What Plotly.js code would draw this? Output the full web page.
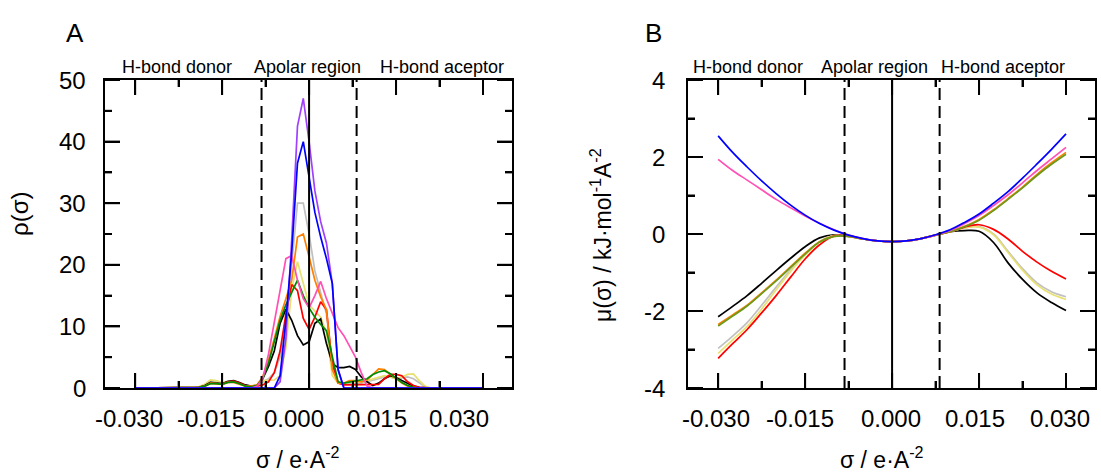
<!DOCTYPE html>
<html><head><meta charset="utf-8">
<script src="https://cdn.plot.ly/plotly-3.0.1.min.js"></script>
<style>html,body{margin:0;padding:0;background:#fff;}#chart{width:1101px;height:473px;}</style>
</head><body><div id="chart"></div>
<script>
// ---------- Panel A: sigma profiles rho(sigma) ----------
const sigmaA = [-0.030,-0.029,-0.028,-0.027,-0.026,-0.025,-0.024,-0.023,-0.022,-0.021,-0.020,
-0.019,-0.018,-0.017,-0.016,-0.015,-0.014,-0.013,-0.012,-0.011,-0.010,
-0.009,-0.008,-0.007,-0.006,-0.005,-0.004,-0.003,-0.002,-0.001,
0.000,0.001,0.002,0.003,0.004,0.005,0.006,0.007,0.008,0.009,
0.010,0.011,0.012,0.013,0.014,0.015,0.016,0.017,0.018,0.019,
0.020,0.021,0.022,0.023,0.024,0.025,0.026,0.027,0.028,0.029,0.030];

const rhoBlack = [0,0,0,0,0,0,0,0,0,0,0,
0.1,0.4,0.9,0.8,0.7,1.1,1.2,0.9,0.5,0.3,
0.4,1.5,3.5,6,10.5,12.8,11,8.5,7,
7.5,10.5,11.2,7.2,4,3.3,3.3,3.5,3.0,1.8,
1.0,0.4,0.8,1.5,2.0,1.7,1.2,0.7,0.3,0.1,
0,0,0,0,0,0,0,0,0,0,0];
const rhoRed = [0,0,0,0,0,0,0,0,0,0,0,
0.1,0.3,0.8,0.7,0.6,1.0,1.1,0.8,0.4,0.3,
0.3,0.5,1.0,2.5,6,12,16.8,15.8,11.3,
9.5,11.5,14,12.7,4,0.8,0.5,0.5,0.5,0.5,
0.5,0.6,0.6,1.5,2.2,2.2,2.0,1.0,0.4,0.1,
0,0,0,0,0,0,0,0,0,0,0];
const rhoYellow = [0,0,0,0,0,0,0,0,0,0,0,
0.2,0.6,1.3,1.2,0.9,1.0,1.0,0.7,0.4,0.3,
0.5,1.2,1.3,1.3,2,6.5,16,20.5,17,
13.5,12.5,11.5,9,2,0.8,0.8,1.0,1.0,1.0,
1.2,1.5,1.8,2.0,1.8,1.5,1.8,2.2,2.3,1.2,
0.3,0,0,0,0,0,0,0,0,0,0];
const rhoGray = [0,0,0,0,0,0,0,0,0,0,0,
0.2,0.5,1.1,1.0,0.8,0.9,0.9,0.6,0.4,0.3,
0.4,1.0,1.5,2.5,5,10,20,30,30,
25,19,15.5,12,4,0.8,0.6,0.6,0.7,0.8,
1.0,1.2,1.5,1.8,1.8,1.5,1.6,1.8,1.5,0.8,
0.2,0,0,0,0,0,0,0,0,0,0];
const rhoOrange = [0,0,0,0,0,0,0,0,0,0,0,
0.1,0.3,0.8,0.7,0.6,0.9,0.9,0.6,0.3,0.3,
0.5,1.8,4.5,8,11.6,14.5,17.5,24.5,25,
21.3,17.5,14.8,12.7,3,0.8,0.8,1.2,1.2,1.0,
1.3,2.2,3.1,3.0,2.3,1.5,0.8,0.3,0.1,0,
0,0,0,0,0,0,0,0,0,0,0];
const rhoGreen = [0,0,0,0,0,0,0,0,0,0,0,
0.1,0.3,0.7,0.7,0.6,0.9,1.0,0.7,0.3,0.2,
0.4,1.5,4,7.5,11,13.5,15.5,17.5,15,
13,11.5,10.3,9.3,5,1.0,0.8,1.0,1.2,1.3,
1.5,2.2,2.6,2.8,2.3,1.6,0.9,0.4,0.1,0,
0,0,0,0,0,0,0,0,0,0,0];
const rhoPink = [0,0,0,0,0,0,0,0,0,0,0,
0,0,0,0,0,0,0,0,0,0,
0.3,1.5,5.5,10.5,16,21,21.5,17.5,14.5,
13,15,17.3,14.5,12,9.8,8.5,6.8,5,2.5,
0.3,0,0,0,0,0,0,0,0,0,
0,0,0,0,0,0,0,0,0,0,0];
const rhoPurple = [0,0,0,0,0,0,0,0,0,0,0,
0,0,0,0,0,0,0,0,0,0,
0,0,0,0,1,8,24,42.5,47,
40,32,27,23.5,17,3,0,0,0,0,
0,0,0,0,0,0,0,0,0,0,
0,0,0,0,0,0,0,0,0,0,0];
const rhoBlue = [0,0,0,0,0,0,0,0,0,0,0,
0,0,0,0,0,0,0,0,0,0,
0,0,0,0,2,11,22,36.5,40,
34.3,28.5,24.5,21,17,3,0,0,0,0,
0,0,0,0,0,0,0,0,0,0,
0,0,0,0,0,0,0,0,0,0,0];

// ---------- Panel B: sigma potentials mu(sigma) ----------
const sigmaB = [-0.030,-0.0275,-0.025,-0.0225,-0.020,-0.0175,-0.015,-0.0125,-0.010,-0.0075,-0.005,-0.0025,0,
0.0025,0.005,0.0075,0.010,0.0125,0.015,0.0175,0.020,0.0225,0.025,0.0275,0.030];
const muBlue   = [2.55,2.12,1.74,1.38,1.05,0.75,0.49,0.27,0.1,-0.03,-0.12,-0.18,-0.2,-0.18,-0.12,-0.02,0.11,0.3,0.52,0.8,1.1,1.45,1.82,2.2,2.6];
const muPink   = [1.94,1.65,1.4,1.15,0.9,0.68,0.47,0.28,0.11,-0.03,-0.12,-0.18,-0.2,-0.18,-0.12,-0.03,0.09,0.27,0.48,0.74,1.02,1.33,1.65,1.95,2.25];
const muBlack  = [-2.15,-1.88,-1.6,-1.28,-0.95,-0.63,-0.33,-0.1,-0.02,-0.06,-0.13,-0.18,-0.2,-0.18,-0.12,-0.03,0.06,0.09,0.07,-0.22,-0.75,-1.18,-1.53,-1.78,-1.99];
const muGray   = [-2.97,-2.65,-2.3,-1.85,-1.38,-0.93,-0.53,-0.2,-0.04,-0.06,-0.13,-0.18,-0.2,-0.18,-0.12,-0.03,0.06,0.16,0.19,0.0,-0.45,-0.9,-1.27,-1.5,-1.63];
const muYellow = [-3.1,-2.75,-2.4,-1.95,-1.45,-0.97,-0.55,-0.21,-0.04,-0.06,-0.13,-0.18,-0.2,-0.18,-0.12,-0.03,0.06,0.16,0.18,-0.02,-0.48,-0.94,-1.32,-1.56,-1.7];
const muRed    = [-3.23,-2.85,-2.48,-2.05,-1.6,-1.12,-0.65,-0.28,-0.05,-0.05,-0.13,-0.18,-0.2,-0.18,-0.12,-0.03,0.06,0.18,0.24,0.12,-0.13,-0.45,-0.73,-0.97,-1.17];
const muOrange = [-2.35,-2.1,-1.85,-1.53,-1.2,-0.85,-0.5,-0.2,-0.06,-0.06,-0.13,-0.18,-0.2,-0.18,-0.12,-0.03,0.06,0.2,0.38,0.63,0.92,1.22,1.55,1.85,2.12];
const muGreen  = [-2.39,-2.13,-1.87,-1.55,-1.22,-0.87,-0.52,-0.21,-0.06,-0.06,-0.13,-0.18,-0.2,-0.18,-0.12,-0.03,0.06,0.19,0.36,0.61,0.9,1.2,1.52,1.81,2.07];

// ---------- ticks, tick labels & region boundaries ----------
const xTickVals = [-0.030,-0.015,0,0.015,0.030];
const xTickText = ["-0.030","-0.015","0.000","0.015","0.030"];
const xMinorVals = [-0.0225,-0.0075,0.0075,0.0225];
const yTickValsA = [0,10,20,30,40,50];
const yTickTextA = ["0","10","20","30","40","50"];
const yMinorValsA = [5,15,25,35,45];
const yTickValsB = [-4,-2,0,2,4];
const yTickTextB = ["-4","-2","0","2","4"];
const yMinorValsB = [-3,-1,1,3];
const regionBounds = [-0.0082, 0.0082];
const regionLabels = ["H-bond donor","Apolar region","H-bond aceptor"];

const FONT = "Arial, 'Liberation Sans', sans-serif";
const W = 1101, H = 473;
const px = v => v / W, py = v => 1 - v / H;

// frame geometry (pixels) and axis ranges
const FA = {l:105, r:512}, FB = {l:688, r:1095}, FT = 80, FBOT = 388;
const xr = [-0.0352, 0.0350];
const yrA = [0, 50], yrB = [-4, 4];

function lineA(y, color){ return {x:sigmaA, y:y, xaxis:'x', yaxis:'y', mode:'lines', line:{color:color, width:1.7}, hoverinfo:'skip'}; }
function lineB(y, color){ return {x:sigmaB, y:y, xaxis:'x2', yaxis:'y2', mode:'lines', line:{color:color, width:1.7, shape:'spline', smoothing:1}, hoverinfo:'skip'}; }

// tick marks (inside, mirrored) built in each axis' own units from pixel lengths
function tickTrace(xa, ya, yr, F, xMaj, xMin, yMaj, yMin){
  const plotW = F.r - F.l, plotH = FBOT - FT;
  const dxPerPx = (xr[1]-xr[0]) / plotW, dyPerPx = (yr[1]-yr[0]) / plotH;
  const X = [], Y = [];
  function seg(x0,y0,x1,y1){ X.push(x0,x1,null); Y.push(y0,y1,null); }
  [[xMaj,15],[xMin,7]].forEach(([vals,len])=>vals.forEach(v=>{
    seg(v, yr[0], v, yr[0]+len*dyPerPx);
    seg(v, yr[1], v, yr[1]-len*dyPerPx);
  }));
  [[yMaj,15],[yMin,7]].forEach(([vals,len])=>vals.forEach(v=>{
    seg(xr[0], v, xr[0]+len*dxPerPx, v);
    seg(xr[1], v, xr[1]-len*dxPerPx, v);
  }));
  return {x:X, y:Y, xaxis:xa, yaxis:ya, mode:'lines', line:{color:'#000', width:2}, hoverinfo:'skip', cliponaxis:false};
}

const traces = [
  tickTrace('x','y',yrA,FA,xTickVals,xMinorVals,yTickValsA,yMinorValsA),
  tickTrace('x2','y2',yrB,FB,xTickVals,xMinorVals,yTickValsB,yMinorValsB),
  lineA(rhoGray,'#c0c0c0'), lineA(rhoYellow,'#e8e070'), lineA(rhoBlack,'#000000'), lineA(rhoRed,'#ff0000'),
  lineA(rhoOrange,'#ff8000'), lineA(rhoGreen,'#008a00'), lineA(rhoPink,'#ff50b4'), lineA(rhoPurple,'#a040ff'),
  lineA(rhoBlue,'#0000ff'),
  lineB(muBlack,'#000000'), lineB(muGray,'#c0c0c0'), lineB(muYellow,'#e8e070'), lineB(muRed,'#ff0000'),
  lineB(muOrange,'#ff8000'), lineB(muGreen,'#6a9a1c'), lineB(muPink,'#ff50b4'), lineB(muBlue,'#0000ff')
];

function axis(domain, anchor, range, vals, minorStep){
  return {domain:domain, anchor:anchor, range:range, showgrid:false, zeroline:false,
    showline:true, linecolor:'#000', linewidth:2, mirror:'allticks',
    ticks:'inside', ticklen:15, tickwidth:2, tickcolor:'#000',
    tickmode:'array', tickvals:vals, showticklabels:false,
    minor:{dtick:minorStep, tick0:0, ticks:'inside', ticklen:7, tickwidth:2, tickcolor:'#000'}};
}
const yDom = [(H-FBOT)/H, (H-FT)/H];

const shapes = [];
const BLK = {color:'#000', width:2};
[['x','y'],['x2','y2']].forEach(([xa,ya])=>{
  shapes.push({type:'line', xref:xa, yref:ya+' domain', x0:0, x1:0, y0:0, y1:1, line:BLK});
  regionBounds.forEach(b=>shapes.push({type:'line', xref:xa, yref:ya+' domain', x0:b, x1:b, y0:0, y1:1, line:{color:'#000', width:2, dash:'12px,6px'}}));
});

const ann = [];
function txt(t, x, y, size, extra){ ann.push(Object.assign({text:t, xref:'paper', yref:'paper', x:px(x), y:py(y), xanchor:'center', yanchor:'middle', showarrow:false, font:{family:FONT, size:size, color:'#000'}}, extra||{})); }
function tickLab(t, xref, x, yref, y, xanchor, shift){
  ann.push({text:t, xref:xref, x:x, yref:yref, y:y, xanchor:xanchor, yanchor:'middle', xshift:shift||0, showarrow:false,
    font:{family:FONT, size:24, color:'#000'}});
}
// tick labels placed through the axes' scales (label offsets in px as in the reference)
const xLabShiftA = [-6,-11,-15,-19,-24];
const xLabShiftB = [-2,-5,-1,-4,-6];
xTickVals.forEach((v,i)=>{ tickLab(xTickText[i],'x',v,'paper',py(418),'center',xLabShiftA[i]); });
xTickVals.forEach((v,i)=>{ tickLab(xTickText[i],'x2',v,'paper',py(418),'center',xLabShiftB[i]); });
yTickValsA.forEach((v,i)=>{ tickLab(yTickTextA[i],'paper',px(88),'y',v,'right',0); });
yTickValsB.forEach((v,i)=>{ tickLab(yTickTextB[i],'paper',px(667),'y2',v,'right',0); });

txt('A', 75, 33, 26); txt('B', 653, 33, 26);
txt(regionLabels[0], 177, 67, 18); txt(regionLabels[1], 307, 67, 18); txt(regionLabels[2], 442, 67, 18);
txt(regionLabels[0], 748, 67, 18); txt(regionLabels[1], 874, 67, 18); txt(regionLabels[2], 1003, 67, 18);
txt('σ / e·A<sup>-2</sup>', 298, 458, 23); txt('σ / e·A<sup>-2</sup>', 882, 458, 23);
txt('ρ(σ)', 19, 214, 24, {textangle:-90});
txt('μ(σ) / kJ·mol<sup>-1</sup>A<sup>-2</sup>', 601, 235, 23, {textangle:-90});

const layout = {
  width:W, height:H, margin:{l:0,r:0,t:0,b:0}, showlegend:false,
  paper_bgcolor:'#fff', plot_bgcolor:'#fff',
  xaxis: axis([FA.l/W, FA.r/W], 'y', xr, xTickVals, 0.0075),
  yaxis: axis(yDom, 'x', yrA, yTickValsA, 5),
  xaxis2: axis([FB.l/W, FB.r/W], 'y2', xr, xTickVals, 0.0075),
  yaxis2: axis(yDom, 'x2', yrB, yTickValsB, 1),
  shapes: shapes, annotations: ann
};
Plotly.newPlot('chart', traces, layout, {staticPlot:true, displayModeBar:false});
</script></body></html>
